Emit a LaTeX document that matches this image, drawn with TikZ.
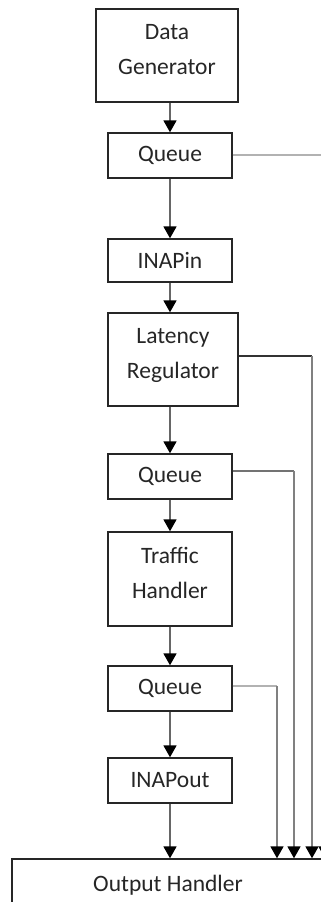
\documentclass[tikz,border=0pt]{standalone}
\usepackage{fontspec}
\setmainfont{Carlito}
\usetikzlibrary{arrows.meta}
\begin{document}
\begin{tikzpicture}[x=1pt,y=-1pt,
  blk/.style={draw=black!85, line width=1.4pt, fill=white, inner sep=0pt, align=center,
    text=black!85, font=\fontsize{23.5}{35}\selectfont},
  blktwo/.style={blk, text depth=13pt},
  flow/.style={draw=black!60, line width=1.8pt, -{Triangle[width=13,length=12,color=black]}},
  side/.style={draw=black!45, line width=2pt},
  sidel/.style={draw=black!30, line width=2.2pt}
]
\clip (0,0) rectangle (321,902);
\fill[white] (0,0) rectangle (321,902);
\node[blktwo, minimum width=142, minimum height=93] (dg) at (167,55.5) {Data\\Generator};
\node[blk, minimum width=124, minimum height=45] (q1) at (170,155.5) {Queue};
\node[blk, minimum width=124, minimum height=43] (in) at (170,260.5) {INAPin};
\node[blktwo, minimum width=130, minimum height=93] (lr) at (173,359.5) {Latency\\Regulator};
\node[blk, minimum width=124, minimum height=45] (q2) at (170,476.5) {Queue};
\node[blktwo, minimum width=124, minimum height=94] (th) at (170,579) {Traffic\\Handler};
\node[blk, minimum width=124, minimum height=45] (q3) at (170,688.5) {Queue};
\node[blk, minimum width=124, minimum height=45] (out) at (170,780.5) {INAPout};
\node[blk, minimum width=312, minimum height=52] (oh) at (168,885) {Output Handler};

\coordinate (c1) at (325,155);
\coordinate (c2) at (312,356);
\coordinate (c3) at (294,471);
\coordinate (c4) at (277,686);

\draw[flow] (q1.north |- dg.south) -- (q1.north);
\draw[flow] (q1.south) -- (in.north);
\draw[flow] (in.south) -- (in.south |- lr.north);
\draw[flow] (q2.north |- lr.south) -- (q2.north);
\draw[flow] (q2.south) -- (th.north);
\draw[flow] (th.south) -- (q3.north);
\draw[flow] (q3.south) -- (out.north);
\draw[flow] (out.south) -- (out.south |- oh.north);

\draw[sidel] (q1.east |- c1) -- (c1);
\draw[flow, draw=black!45] (c1) -- (c1 |- oh.north);

\draw[draw=black!80, line width=1.2pt] (lr.east |- c2) -- (c2);
\draw[flow, draw=black!50] (c2) -- (c2 |- oh.north);

\draw[draw=black!55, line width=1.5pt] (q2.east |- c3) -- (c3);
\draw[flow, draw=black!50] (c3) -- (c3 |- oh.north);

\draw[sidel, line width=1.6pt] (q3.east |- c4) -- (c4);
\draw[flow, draw=black!50] (c4) -- (c4 |- oh.north);
\end{tikzpicture}
\end{document}
